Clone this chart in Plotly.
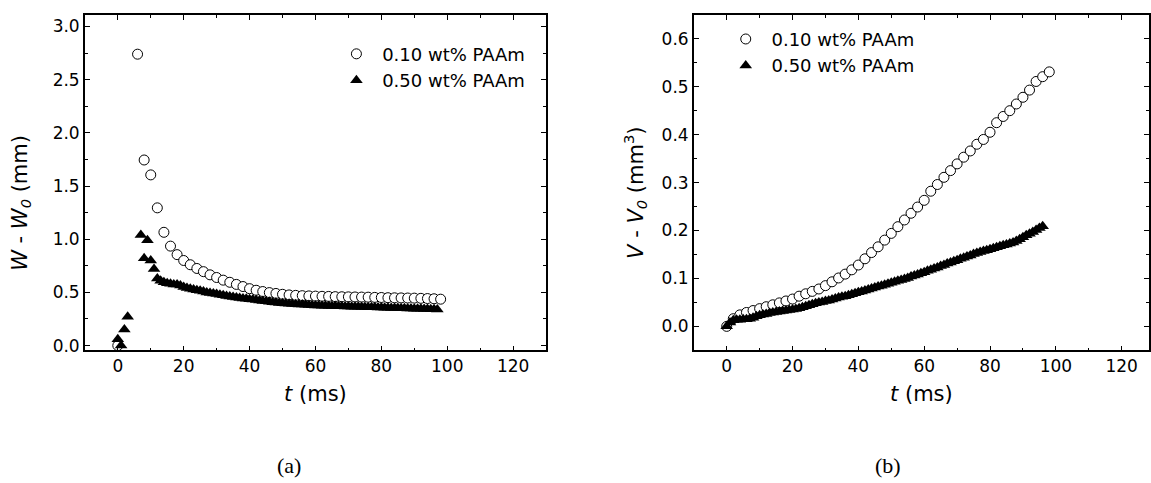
import plotly.graph_objects as go

# ---------------- data ----------------
# Panel (a): W - W0 (mm) vs t (ms)
a_t_010 = [0, 6, 8, 10, 12, 14, 16, 18, 20, 22, 24, 26, 28, 30, 32, 34, 36, 38, 40,
           42, 44, 46, 48, 50, 52, 54, 56, 58, 60, 62, 64, 66, 68, 70, 72, 74, 76, 78,
           80, 82, 84, 86, 88, 90, 92, 94, 96, 98]
a_w_010 = [0.0, 2.74, 1.745, 1.605, 1.295, 1.065, 0.935, 0.855, 0.80, 0.76, 0.725, 0.695,
           0.665, 0.64, 0.615, 0.595, 0.575, 0.555, 0.535, 0.52, 0.508, 0.498, 0.49, 0.482,
           0.476, 0.472, 0.469, 0.467, 0.465, 0.463, 0.462, 0.46, 0.459, 0.458, 0.457,
           0.456, 0.455, 0.453, 0.452, 0.45, 0.449, 0.448, 0.447, 0.446, 0.444, 0.442,
           0.44, 0.436]

a_t_050 = [0, 1, 2, 3, 7, 8, 9, 10, 11, 12, 13, 14, 15, 16, 17, 18, 19, 20, 21, 22, 23,
           24, 25, 26, 27, 28, 29, 30, 31, 32, 33, 34, 35, 36, 37, 38, 39, 40, 41, 42, 43,
           44, 45, 46, 47, 48, 49, 50, 51, 52, 53, 54, 55, 56, 57, 58, 59, 60, 61, 62, 63,
           64, 65, 66, 67, 68, 69, 70, 71, 72, 73, 74, 75, 76, 77, 78, 79, 80, 81, 82, 83,
           84, 85, 86, 87, 88, 89, 90, 91, 92, 93, 94, 95, 96, 97]
a_w_050 = [0.06, 0.0, 0.15, 0.27, 1.04, 0.82, 0.99, 0.80, 0.72, 0.63, 0.61, 0.595, 0.585,
           0.58, 0.575, 0.575, 0.565, 0.55, 0.54, 0.535, 0.528, 0.52, 0.515, 0.508, 0.50,
           0.495, 0.49, 0.485, 0.478, 0.472, 0.467, 0.462, 0.457, 0.452, 0.447, 0.443,
           0.44, 0.436, 0.432, 0.428, 0.424, 0.42, 0.416, 0.412, 0.408, 0.404, 0.401,
           0.398, 0.395, 0.393, 0.391, 0.389, 0.387, 0.385, 0.383, 0.381, 0.379, 0.377,
           0.376, 0.375, 0.374, 0.373, 0.372, 0.371, 0.37, 0.369, 0.368, 0.367, 0.366,
           0.365, 0.364, 0.363, 0.362, 0.361, 0.36, 0.359, 0.358, 0.357, 0.356, 0.355,
           0.354, 0.353, 0.352, 0.351, 0.35, 0.349, 0.348, 0.347, 0.346, 0.345, 0.344,
           0.343, 0.342, 0.341, 0.34]

# Panel (b): V - V0 (mm^3) vs t (ms)
b_t_010 = [0, 2, 4, 6, 8, 10, 12, 14, 16, 18, 20, 22, 24, 26, 28, 30, 32, 34, 36, 38, 40,
           42, 44, 46, 48, 50, 52, 54, 56, 58, 60, 62, 64, 66, 68, 70, 72, 74, 76, 78, 80,
           82, 84, 86, 88, 90, 92, 94, 96, 98]
b_v_010 = [0.0, 0.016, 0.024, 0.029, 0.033, 0.037, 0.041, 0.045, 0.049, 0.053, 0.057,
           0.063, 0.068, 0.073, 0.078, 0.085, 0.093, 0.101, 0.109, 0.118, 0.128, 0.141,
           0.154, 0.166, 0.180, 0.194, 0.208, 0.222, 0.236, 0.249, 0.263, 0.282, 0.296,
           0.311, 0.325, 0.339, 0.353, 0.366, 0.38, 0.39, 0.405, 0.425, 0.438, 0.45,
           0.464, 0.478, 0.493, 0.511, 0.521, 0.531]

b_t_050 = list(range(0, 97))
b_v_050 = [0.0, 0.008, 0.013, 0.014, 0.014, 0.015, 0.015, 0.016, 0.018, 0.021, 0.023,
           0.025, 0.026, 0.028, 0.029, 0.030, 0.031, 0.032, 0.033, 0.034, 0.035, 0.036,
           0.038, 0.040, 0.042, 0.044, 0.046, 0.048, 0.050, 0.051, 0.053, 0.054, 0.056,
           0.058, 0.060, 0.062, 0.063, 0.065, 0.067, 0.069, 0.071, 0.073, 0.075, 0.077,
           0.079, 0.081, 0.083, 0.085, 0.087, 0.089, 0.091, 0.093, 0.095, 0.097, 0.099,
           0.101, 0.104, 0.106, 0.108, 0.111, 0.113, 0.116, 0.118, 0.121, 0.123, 0.126,
           0.128, 0.131, 0.133, 0.136, 0.138, 0.141, 0.143, 0.146, 0.148, 0.151, 0.153,
           0.155, 0.157, 0.159, 0.161, 0.163, 0.165, 0.167, 0.169, 0.171, 0.173, 0.175,
           0.178, 0.182, 0.186, 0.190, 0.193, 0.197, 0.201, 0.205, 0.209]

name_010 = "0.10 wt% PAAm"
name_050 = "0.50 wt% PAAm"

x_ticks = [0, 20, 40, 60, 80, 100, 120]

# ---------------- figure ----------------
W, H = 1151, 483
FONT = "DejaVu Sans"
SERIF = "Liberation Serif"
PAD = "\u00a0"

circ = dict(symbol="circle", size=10, color="white", line=dict(color="black", width=1))
tri = dict(symbol="triangle-up", size=11, color="black", line=dict(width=0))

fig = go.Figure()
fig.add_trace(go.Scatter(x=a_t_010, y=a_w_010, mode="markers", marker=circ,
                         name=PAD + name_010, xaxis="x", yaxis="y", legend="legend"))
fig.add_trace(go.Scatter(x=a_t_050, y=a_w_050, mode="markers", marker=tri,
                         name=PAD + name_050, xaxis="x", yaxis="y", legend="legend"))
fig.add_trace(go.Scatter(x=b_t_010, y=b_v_010, mode="markers", marker=circ,
                         name=PAD + name_010, xaxis="x2", yaxis="y2", legend="legend2"))
fig.add_trace(go.Scatter(x=b_t_050, y=b_v_050, mode="markers", marker=tri,
                         name=PAD + name_050, xaxis="x2", yaxis="y2", legend="legend2"))

ydom = [1 - 354 / H, 1 - 15 / H]
common = dict(showline=True, linecolor="black", linewidth=1.5, mirror="ticks",
              ticks="inside", ticklen=5, tickwidth=1.2, tickcolor="black",
              showgrid=False, zeroline=False,
              tickfont=dict(family=FONT, size=17, color="black"))

fig.update_layout(
    width=W, height=H, autosize=False,
    margin=dict(l=0, r=0, t=0, b=0),
    paper_bgcolor="white", plot_bgcolor="white",
    font=dict(family=FONT, color="black"),
    xaxis=dict(domain=[85 / W, 547 / W], range=[-10, 130], anchor="y",
               tickvals=x_ticks,
               minor=dict(dtick=10, tick0=0, ticks="inside", ticklen=3,
                          tickcolor="black", showgrid=False),
               title=dict(text="<i>t</i> (ms)", font=dict(family=FONT, size=21), standoff=11),
               **common),
    yaxis=dict(domain=ydom, range=[-0.045, 3.11], anchor="x",
               dtick=0.5, tick0=0, tickformat=".1f",
               minor=dict(dtick=0.25, tick0=0, ticks="inside", ticklen=3,
                          tickcolor="black", showgrid=False),
               **common),
    xaxis2=dict(domain=[695 / W, 1.0], range=[-10, 128.3], anchor="y2",
                tickvals=x_ticks,
                minor=dict(dtick=10, tick0=0, ticks="inside", ticklen=3,
                           tickcolor="black", showgrid=False),
                title=dict(text="<i>t</i> (ms)", font=dict(family=FONT, size=21), standoff=11),
                **common),
    yaxis2=dict(domain=ydom, range=[-0.05, 0.65], anchor="x2",
                dtick=0.1, tick0=0, tickformat=".1f",
                minor=dict(dtick=0.05, tick0=0, ticks="inside", ticklen=3,
                           tickcolor="black", showgrid=False),
                **common),
    legend=dict(x=337 / W, y=1 - 36 / H, xanchor="left", yanchor="top",
                bgcolor="rgba(0,0,0,0)", borderwidth=0, tracegroupgap=0,
                font=dict(family=FONT, size=18, color="black"), itemsizing="trace"),
    legend2=dict(x=727 / W, y=1 - 21 / H, xanchor="left", yanchor="top",
                 bgcolor="rgba(0,0,0,0)", borderwidth=0, tracegroupgap=0,
                 font=dict(family=FONT, size=18, color="black"), itemsizing="trace"),
    showlegend=True,
)

annos = [
    dict(text="<i>W</i> - <i>W</i><sub><i>0</i></sub> (mm)", x=21 / W, y=1 - 205 / H,
         textangle=-90, font=dict(family=FONT, size=21)),
    dict(text="<i>V</i> - <i>V</i><sub><i>0</i></sub> (mm<sup>3</sup>)", x=636 / W, y=1 - 195 / H,
         textangle=-90, font=dict(family=FONT, size=21)),
    dict(text="(a)", x=290 / W, y=1 - 470 / H, font=dict(family=SERIF, size=22)),
    dict(text="(b)", x=890 / W, y=1 - 470 / H, font=dict(family=SERIF, size=22)),
]
for a in annos:
    fig.add_annotation(xref="paper", yref="paper", showarrow=False,
                       xanchor="center", yanchor="middle", **a)

fig.write_html("out.html", config={"displayModeBar": False},
               post_script="document.body.style.margin='0px';document.body.style.padding='0px';")
